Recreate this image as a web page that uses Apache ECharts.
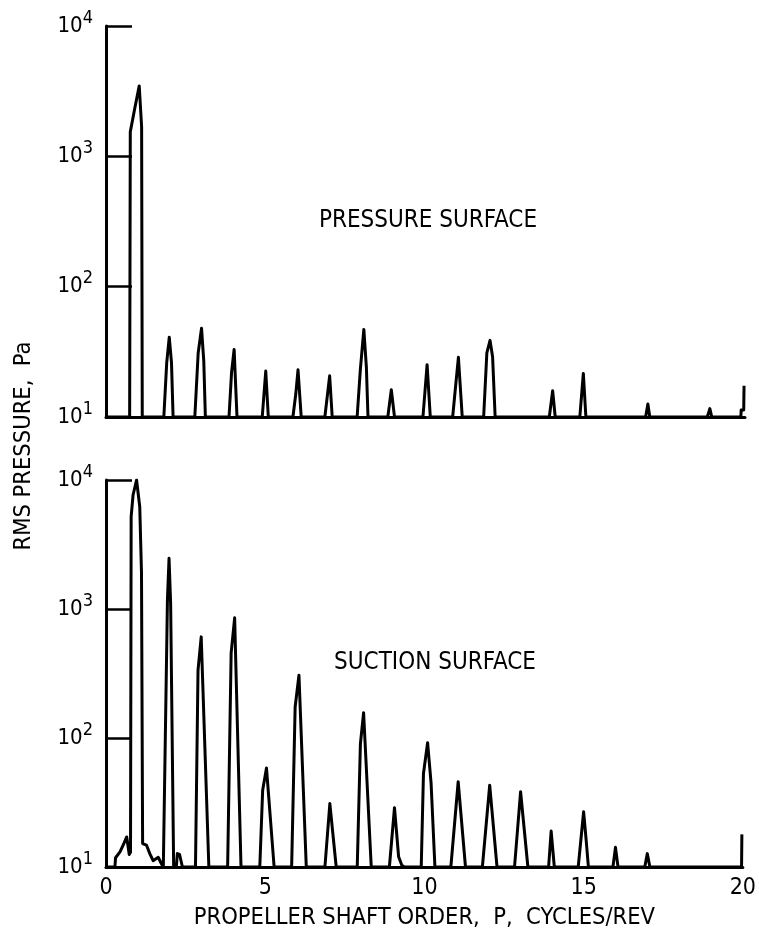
<!DOCTYPE html>
<html>
<head>
<meta charset="utf-8">
<script src="https://cdn.jsdelivr.net/npm/echarts@6/dist/echarts.min.js"></script>
<style>
  html, body { margin: 0; padding: 0; background: #fff; }
  #chart { width: 759px; height: 936px; }
</style>
</head>
<body>
<div id="chart"></div>
<script>
// Shaft order P (cycles/rev) and RMS pressure (Pa)
const pressureOrder = [
  0, 0.74, 0.76, 0.91, 1.04, 1.115, 1.135,
  1.81, 1.90, 1.98, 2.05, 2.10,
  2.78, 2.885, 2.99, 3.06, 3.11,
  3.85, 3.93, 4.01, 4.10,
  4.89, 5.00, 5.08,
  5.85, 5.94, 6.01, 6.11,
  6.85, 7.00, 7.08,
  7.86, 7.96, 8.07, 8.15, 8.20,
  8.82, 8.93, 9.03,
  9.92, 10.05, 10.15,
  10.85, 10.94, 11.03, 11.15,
  11.82, 11.92, 12.02, 12.10, 12.18,
  13.875, 13.98, 14.06,
  14.83, 14.94, 15.02,
  16.89, 16.96, 17.02,
  18.82, 18.90, 18.96,
  19.87, 19.88, 19.96, 19.97
];
const pressureRms = [
  10, 10, 1540, 2400, 3470, 1680, 10,
  10, 26, 41, 26, 10,
  10, 31, 48, 27, 10,
  10, 22, 33, 10,
  10, 22.5, 10,
  10, 15, 23, 10,
  10, 20.7, 10,
  10, 23, 47, 24, 10,
  10, 16.2, 10,
  10, 25.2, 10,
  10, 17, 28.7, 10,
  10, 31, 38.7, 29, 10,
  10, 15.9, 10,
  10, 21.6, 10,
  10, 12.6, 10,
  10, 11.6, 10,
  10, 11.3, 11.3, 17.4
];

const suctionOrder = [
  0, 0.28, 0.30, 0.44, 0.56, 0.65, 0.73, 0.77,
  0.79, 0.85, 0.96, 1.06, 1.115, 1.15,
  1.27, 1.375, 1.48, 1.64, 1.74,
  1.80, 1.93, 1.98, 2.03, 2.125,
  2.21, 2.24, 2.31, 2.40,
  2.81, 2.89, 2.99, 3.23,
  3.82, 3.93, 4.04, 4.24,
  4.83, 4.92, 5.04, 5.28,
  5.83, 5.94, 6.06, 6.29,
  6.875, 7.03, 7.23,
  7.89, 7.99, 8.09, 8.33,
  8.90, 9.06, 9.19, 9.29, 9.375,
  9.90, 9.97, 10.10, 10.21, 10.33,
  10.83, 11.06, 11.29,
  11.82, 12.05, 12.28,
  12.83, 13.02, 13.25,
  13.90, 13.98, 14.08,
  14.83, 15.00, 15.08, 15.15,
  15.92, 16.00, 16.08,
  16.92, 17.00, 17.08,
  19.96, 19.97
];
const suctionRms = [
  10, 10, 11.8, 13.1, 15.2, 17.1, 12.5, 13,
  5190, 7650, 10000, 6200, 1890, 15.2,
  14.8, 12.7, 11.2, 11.9, 10.6,
  10, 1200, 2470, 1100, 10,
  10, 12.7, 12.5, 10,
  10, 336, 608, 10,
  10, 455, 855, 10,
  10, 39.4, 58.6, 10,
  10, 174, 307, 10,
  10, 31, 10,
  10, 90.6, 157, 10,
  10, 28.8, 12.0, 10.3, 10,
  10, 53, 92, 44.4, 10,
  10, 45.8, 10,
  10, 43.1, 10,
  10, 38.3, 10,
  10, 19.0, 10,
  10, 26.8, 16.1, 10,
  10, 14.2, 10,
  10, 12.7, 10,
  10, 17.9
];

const orderMin = 0, orderMax = 20, orderStep = 5;
const rmsMin = 10, rmsMax = 10000;

const FONT = "'DejaVu Sans Condensed', 'Liberation Sans Narrow', 'DejaVu Sans', sans-serif";
const NUM_FONT = "'Liberation Sans Narrow', 'DejaVu Sans Condensed', sans-serif";

function pairs(xs, ys) { return xs.map((x, i) => [x, ys[i]]); }

// Decade labels written as 10 with a raised exponent
function powerLabel(v) {
  const e = Math.round(Math.log10(v));
  return '{b|10}{s|' + e + '}';
}

const yAxisBase = {
  type: 'log',
  logBase: 10,
  min: rmsMin,
  max: rmsMax,
  axisLine: { show: true, lineStyle: { color: '#000', width: 3 } },
  axisTick: { show: true, inside: true, length: 26, lineStyle: { color: '#000', width: 2.5 } },
  minorTick: { show: false },
  splitLine: { show: false },
  axisLabel: {
    margin: 13,
    formatter: powerLabel,
    rich: {
      b: { fontFamily: NUM_FONT, fontSize: 22, color: '#000' },
      s: { fontFamily: NUM_FONT, fontSize: 18, color: '#000', padding: [0, 0, 16, 0] }
    }
  }
};

const xAxisBase = {
  type: 'value',
  min: orderMin,
  max: orderMax,
  interval: orderStep,
  axisLine: { show: true, onZero: false, lineStyle: { color: '#000', width: 3 } },
  axisTick: { show: false },
  splitLine: { show: false }
};

const lineStyle = { color: '#000', width: 3, join: 'round' };

const chart = echarts.init(document.getElementById('chart'), null, { renderer: 'canvas' });

chart.setOption({
  backgroundColor: '#fff',
  animation: false,
  grid: [
    { left: 106, right: 14, top: 26, height: 391 },
    { left: 106, right: 14, top: 480, height: 387 }
  ],
  xAxis: [
    Object.assign({}, xAxisBase, { gridIndex: 0, axisLabel: { show: false } }),
    Object.assign({}, xAxisBase, {
      gridIndex: 1,
      axisLabel: { show: true, margin: 10, fontFamily: NUM_FONT, fontSize: 23, color: '#000' },
      name: 'PROPELLER SHAFT ORDER,  P,  CYCLES/REV',
      nameLocation: 'middle',
      nameGap: 39,
      nameTextStyle: { fontFamily: FONT, fontSize: 23.5, color: '#000' }
    })
  ],
  yAxis: [
    Object.assign({}, yAxisBase, { gridIndex: 0 }),
    Object.assign({}, yAxisBase, { gridIndex: 1 })
  ],
  series: [
    {
      name: 'PRESSURE SURFACE',
      type: 'line',
      xAxisIndex: 0,
      yAxisIndex: 0,
      data: pairs(pressureOrder, pressureRms),
      showSymbol: false,
      symbol: 'none',
      lineStyle: lineStyle,
      z: 3
    },
    {
      name: 'SUCTION SURFACE',
      type: 'line',
      xAxisIndex: 1,
      yAxisIndex: 1,
      data: pairs(suctionOrder, suctionRms),
      showSymbol: false,
      symbol: 'none',
      lineStyle: lineStyle,
      z: 3
    }
  ],
  graphic: [
    {
      type: 'text',
      x: 428, y: 221,
      style: { text: 'PRESSURE SURFACE', fontFamily: FONT, fontSize: 24, fill: '#000', align: 'center', verticalAlign: 'middle' }
    },
    {
      type: 'text',
      x: 435, y: 663,
      style: { text: 'SUCTION SURFACE', fontFamily: FONT, fontSize: 24, fill: '#000', align: 'center', verticalAlign: 'middle' }
    },
    {
      type: 'text',
      x: 24, y: 446,
      rotation: Math.PI / 2,
      style: { text: 'RMS PRESSURE,  Pa', fontFamily: FONT, fontSize: 23.5, fill: '#000', align: 'center', verticalAlign: 'middle' }
    }
  ]
});
</script>
</body>
</html>
